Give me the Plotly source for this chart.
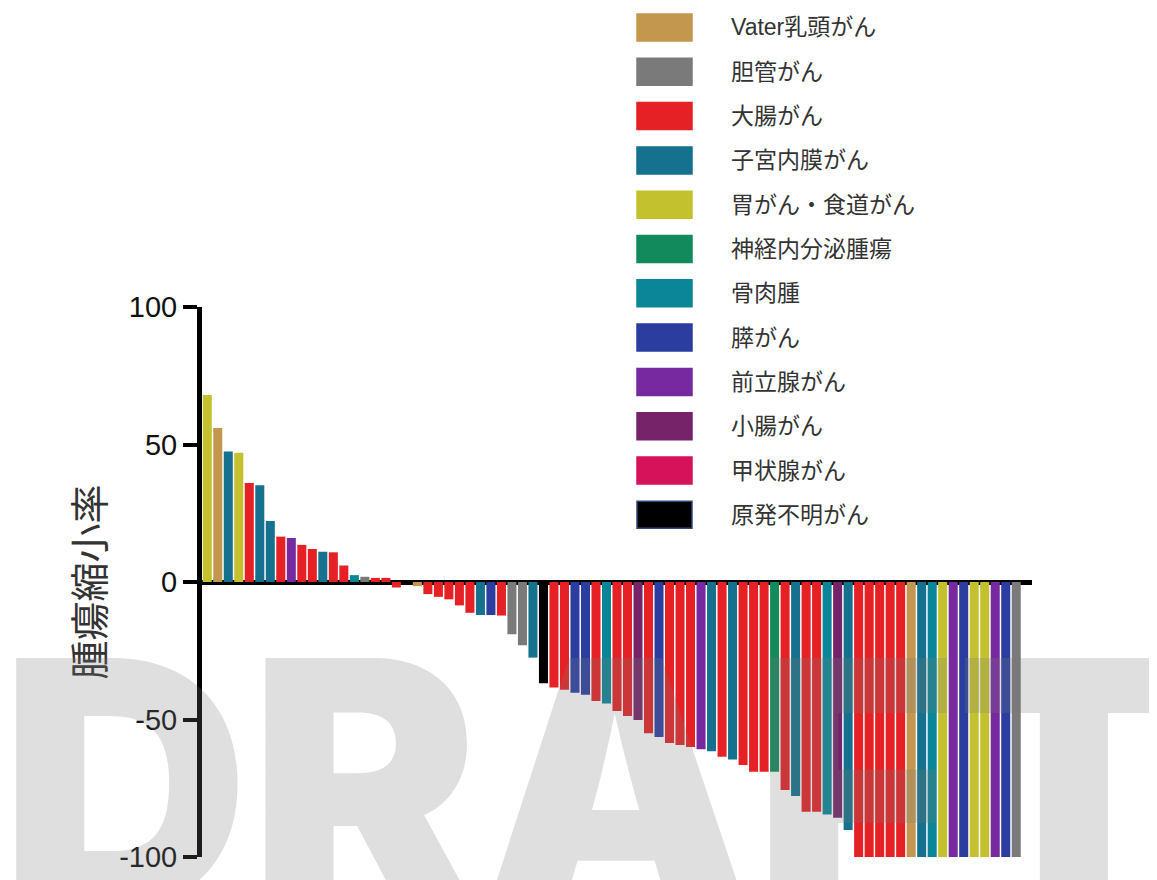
import plotly.graph_objects as go

# ---------------- data ----------------
categories = ["Vater乳頭がん", "胆管がん", "大腸がん", "子宮内膜がん", "胃がん・食道がん",
              "神経内分泌腫瘍", "骨肉腫", "膵がん", "前立腺がん", "小腸がん",
              "甲状腺がん", "原発不明がん"]
category_colors = ["#C4974F", "#7A7A7A", "#E52125", "#15718D", "#C3C22E",
                   "#128A5B", "#0B8698", "#2B3E9F", "#7729A0", "#76236A",
                   "#D6135A", "#000000"]

V, B, C, E, G, N, O, P, R, S, T, U = categories

bar_types = [G, V, E, G, C, E, E, C, R, C,
             C, E, C, C, O, B, C, C, C, C,
             V, C, C, C, C, C, E, P, C, B,
             B, E, U, C, C, P, P, C, O, C,
             C, S, C, P, C, C, C, R, E, C,
             E, C, C, C, N, C, E, C, C, O,
             S, E, C, C, C, C, C, V, E, O,
             G, R, P, G, G, R, P, B]
bar_values = [68, 56, 47.5, 47, 36, 35.2, 22.2, 16.5, 16, 13.5,
              12, 11, 10.8, 6, 2.5, 1.9, 1.5, 1.5, -2, 0,
              -1.5, -4.4, -5.4, -6.3, -8.5, -11.2, -12, -12, -12.2, -19,
              -23, -27.5, -36.8, -38.4, -39.2, -40.3, -41, -43.3, -44.2, -46.9,
              -48.7, -50.2, -55, -56.4, -58.5, -59.3, -60, -60.8, -61.5, -63.5,
              -64.5, -66.5, -69, -69, -69, -75.6, -77.8, -83.5, -83.5, -84.5,
              -85.7, -90.2, -100, -100, -100, -100, -100, -100, -100, -100,
              -100, -100, -100, -100, -100, -100, -100, -100]
tick_values = [-100, -50, 0, 50, 100]
tick_labels = ["-100", "-50", "0", "50", "100"]
y_title = "腫瘍縮小率"
watermark = "DRAFT"

# ---------------- layout geometry (page pixels) ----------------
PAGE_W, PAGE_H = 1157, 880
OFF = 8  # default body margin of the html page
FIG_W, FIG_H = PAGE_W - OFF, PAGE_H - OFF
L, RGT, TOP, BOT = 202, 1032, 307, 857  # plot area in page pixels
PW, PH = RGT - L, BOT - TOP


def px_x(px):
    return (px - L) / PW


def px_y(py):
    return (BOT - py) / PH


fig = go.Figure()
positions = list(range(1, len(bar_values) + 1))
for cat, col in zip(categories, category_colors):
    xs = [p for p, t in zip(positions, bar_types) if t == cat]
    ys = [v for v, t in zip(bar_values, bar_types) if t == cat]
    fig.add_trace(go.Bar(x=xs, y=ys, name=cat, width=0.86,
                         marker=dict(color=col, line=dict(width=0)),
                         showlegend=False))

# custom legend (large swatches like the reference)
shapes = []
annotations = []
for k, (cat, col) in enumerate(zip(categories, category_colors)):
    y0 = 14 + k * 44.3
    y1 = 41 + k * 44.3
    shapes.append(dict(type="rect", xref="paper", yref="paper",
                       x0=px_x(637), x1=px_x(692), y0=px_y(y1), y1=px_y(y0),
                       fillcolor=col,
                       line=dict(color="#2F4A7A" if col == "#000000" else col, width=1.5)))
    annotations.append(dict(xref="paper", yref="paper", x=px_x(729), y=px_y((y0 + y1) / 2),
                            xanchor="left", yanchor="middle", showarrow=False,
                            text=cat,
                            font=dict(size=23, color="#333333",
                                      family="Liberation Sans, Noto Sans CJK JP")))

# watermark
annotations.append(dict(xref="paper", yref="paper", x=px_x(-2), y=px_y(783),
                        xanchor="left", yanchor="middle", showarrow=False,
                        text=watermark,
                        font=dict(size=345, color="rgba(120,120,120,0.24)",
                                  family="Inter", weight=900)))

fig.update_layout(
    width=FIG_W, height=FIG_H,
    margin=dict(l=L - OFF, r=PAGE_W - RGT, t=TOP - OFF, b=PAGE_H - BOT, pad=0,
                autoexpand=False),
    paper_bgcolor="white", plot_bgcolor="white",
    barmode="relative",
    shapes=shapes,
    annotations=annotations,
    xaxis=dict(range=[0.5, len(bar_values) + 1.5], visible=False, fixedrange=True,
               automargin=False),
    yaxis=dict(range=[-100, 100], tickvals=tick_values, ticktext=tick_labels,
               automargin=False,
               showgrid=False, zeroline=True, zerolinecolor="black", zerolinewidth=5,
               showline=True, linecolor="black", linewidth=5,
               ticks="outside", ticklen=14, tickwidth=4, tickcolor="black",
               tickfont=dict(size=29, color="#111111", family="Liberation Sans"),
               title=dict(text=y_title, standoff=4,
                          font=dict(size=39, color="#333333", family="Noto Sans CJK JP"))),
    font=dict(family="Liberation Sans, Noto Sans CJK JP"),
)

fig.write_html("out.html")
